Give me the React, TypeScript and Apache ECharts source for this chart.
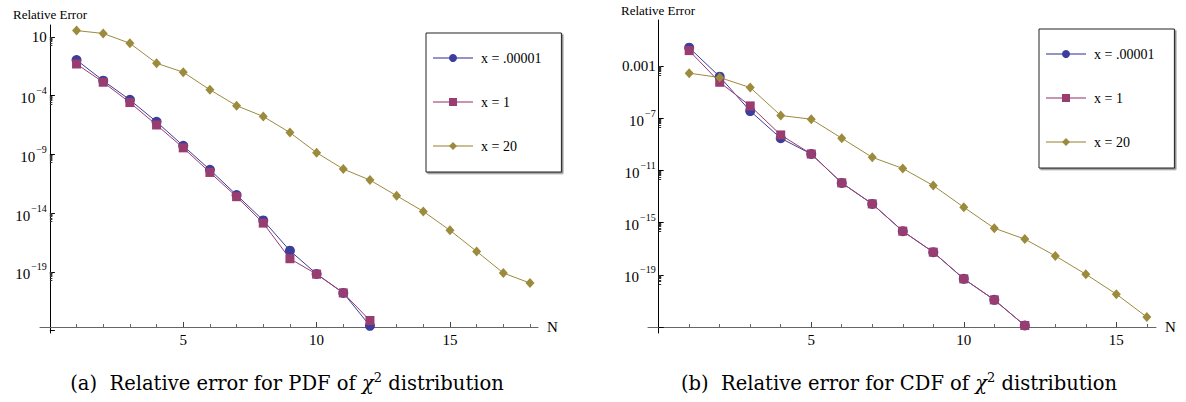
import React, { useEffect, useRef } from "react";
import * as echarts from "echarts";

// ---------- data ----------
const NAMES = ["x = .00001", "x = 1", "x = 20"];

// (a) PDF relative error
const pdfN12 = [1, 2, 3, 4, 5, 6, 7, 8, 9, 10, 11, 12];
const pdfN18 = [1, 2, 3, 4, 5, 6, 7, 8, 9, 10, 11, 12, 13, 14, 15, 16, 17, 18];
const pdfSmall = [1.1e-1, 1.9e-3, 4.4e-5, 5.9e-7, 5.4e-9, 4.9e-11, 3.5e-13, 2.4e-15, 6.3e-18, 6.6e-20, 1.6e-21, 2.5e-24];
const pdfOne = [5.0e-2, 1.4e-3, 2.6e-5, 3.2e-7, 3.6e-9, 2.9e-11, 2.5e-13, 1.4e-15, 1.3e-18, 6.3e-20, 1.6e-21, 7.1e-24];
const pdfTwenty = [35, 20, 2.9, 5.8e-2, 1.0e-2, 3.2e-4, 1.4e-5, 1.7e-6, 7.2e-8, 1.4e-9, 5.6e-11, 6.5e-12, 3.0e-13, 1.4e-14, 3.4e-16, 5.5e-18, 7.9e-20, 1.1e-20];

// (b) CDF relative error
const cdfN12 = [1, 2, 3, 4, 5, 6, 7, 8, 9, 10, 11, 12];
const cdfN16 = [1, 2, 3, 4, 5, 6, 7, 8, 9, 10, 11, 12, 13, 14, 15, 16];
const cdfSmall = [2.5e-2, 1.5e-4, 3.5e-7, 2.9e-9, 1.8e-10, 1.1e-12, 2.7e-14, 2.2e-16, 5.4e-18, 4.9e-20, 1.2e-21, 1.3e-23];
const cdfOne = [1.5e-2, 5.6e-5, 8.7e-7, 5.2e-9, 1.8e-10, 1.1e-12, 2.7e-14, 2.2e-16, 5.4e-18, 4.9e-20, 1.2e-21, 1.3e-23];
const cdfTwenty = [2.8e-4, 1.3e-4, 2.2e-5, 1.6e-7, 8.3e-8, 2.9e-9, 1.0e-10, 1.4e-11, 6.8e-13, 1.5e-14, 3.7e-16, 5.4e-17, 2.8e-18, 1.1e-19, 3.3e-21, 5.8e-23];

// tick exponents
const pdfMajorExp = [1, -4, -9, -14, -19];
const pdfTickExp = [1, -4, -9, -14, -19, -24];
const cdfMajorExp = [-3, -7, -11, -15, -19];
const cdfTickExp = [-3, -7, -11, -15, -19, -23];
const xMinorTicksPdf = [1, 2, 3, 4, 6, 7, 8, 9, 11, 12, 13, 14, 16, 17, 18];
const xMinorTicksCdf = [1, 2, 3, 4, 6, 7, 8, 9, 11, 12, 13, 14, 16];
const xMajorTicks = [5, 10, 15];

const COLORS = ["#3d3d9c", "#993d71", "#9c8b3d"];
const SYMBOLS = ["circle", "rect", "diamond"];
const SYMBOL_SIZES = [10, 9, [9, 10]];
const FONT = "'Liberation Serif', 'Times New Roman', serif";
const CAP_FONT = "'DejaVu Serif', serif";

const minorsBelow = (majors: number[]) => {
  const out: number[] = [];
  majors.forEach((n) => {
    for (let k = 2; k <= 9; k++) out.push(n - 1 + Math.log10(k));
  });
  return out;
};

const pairs = (ns: number[], vs: number[]) => ns.map((n, i) => [n, Math.log10(vs[i])]);

const labelFmt = (plain: Record<string, string>) => (v: number) => {
  const n = Math.round(v);
  if (plain[String(n)]) return plain[String(n)];
  return `{b|10}{s|${n < 0 ? "\u2212" + -n : n}}`;
};

const richLabel = {
  b: { fontFamily: FONT, fontSize: 15, color: "#000", lineHeight: 20, verticalAlign: "bottom" },
  s: { fontFamily: FONT, fontSize: 10, color: "#000", lineHeight: 20, verticalAlign: "top", padding: [0, 0, 0, 1] },
};

export default function App() {
  const ref = useRef<HTMLDivElement>(null);
  useEffect(() => {
    if (!ref.current) return;
    const chart = echarts.init(ref.current, undefined, { renderer: "svg" });

    // plot frames (layout)
    const frames = [
      { left: 40, top: 25, width: 498, height: 302, xMin: -0.37, xMax: 18.3, yMin: -23.7, yMax: 2.02 },
      { left: 648, top: 20, width: 508, height: 307, xMin: -0.35, xMax: 16.3, yMin: -23, yMax: 0.52 },
    ];
    const overhang = 6; // y axis runs a little below the N axis
    // plot grid (A) and a grid for the vertical axis placed at N = 0 (B)
    const gridsA = frames.map((f) => ({ left: f.left, top: f.top, width: f.width, height: f.height }));
    const gridsB = frames.map((f) => {
      const dx = ((0 - f.xMin) / (f.xMax - f.xMin)) * f.width;
      return { left: f.left + dx, top: f.top, width: f.width - dx, height: f.height + overhang };
    });
    const yMinB = frames.map((f) => f.yMin - (overhang * (f.yMax - f.yMin)) / f.height);

    const xMain = (fi: number, minorTicks: number[]) => ({
      type: "value",
      gridIndex: fi * 2,
      min: frames[fi].xMin,
      max: frames[fi].xMax,
      position: "bottom",
      name: "N",
      nameLocation: "end",
      nameGap: 9,
      nameTextStyle: { fontFamily: FONT, fontSize: 15, color: "#000", verticalAlign: "middle" },
      axisLine: { show: true, onZero: false, lineStyle: { color: "#666", width: 1 } },
      axisTick: { show: true, inside: true, length: 3, customValues: minorTicks, lineStyle: { color: "#666" } },
      axisLabel: { show: true, customValues: xMajorTicks, fontFamily: FONT, fontSize: 15, color: "#000", margin: 5 },
      splitLine: { show: false },
    });
    const xMajor = (fi: number) => ({
      type: "value",
      gridIndex: fi * 2,
      min: frames[fi].xMin,
      max: frames[fi].xMax,
      position: "bottom",
      axisLine: { show: false, onZero: false },
      axisTick: { show: true, inside: true, length: 5, customValues: xMajorTicks, lineStyle: { color: "#444" } },
      axisLabel: { show: false },
      splitLine: { show: false },
    });
    const xHidden = (fi: number) => ({
      type: "value",
      gridIndex: fi * 2 + 1,
      min: 0,
      max: frames[fi].xMax,
      show: false,
    });
    const yHidden = (fi: number) => ({
      type: "value",
      gridIndex: fi * 2,
      min: frames[fi].yMin,
      max: frames[fi].yMax,
      show: false,
    });
    const yMain = (fi: number, ticks: number[], labels: number[], plain: Record<string, string>) => ({
      type: "value",
      gridIndex: fi * 2 + 1,
      min: yMinB[fi],
      max: frames[fi].yMax,
      position: "left",
      axisLine: { show: true, onZero: false, lineStyle: { color: "#000", width: 1 } },
      axisTick: { show: true, inside: true, length: 5, customValues: ticks, lineStyle: { color: "#000" } },
      axisLabel: { show: true, customValues: labels, formatter: labelFmt(plain), rich: richLabel, margin: 3, fontFamily: FONT, fontSize: 15, color: "#000" },
      splitLine: { show: false },
    });
    const yMinor = (fi: number, ticks: number[]) => ({
      type: "value",
      gridIndex: fi * 2 + 1,
      min: yMinB[fi],
      max: frames[fi].yMax,
      position: "left",
      axisLine: { show: false, onZero: false },
      axisTick: { show: true, inside: true, length: 2.5, customValues: ticks, lineStyle: { color: "#333" } },
      axisLabel: { show: false },
      splitLine: { show: false },
    });

    const mkSeries = (i: number, data: number[][], xIdx: number, yIdx: number) => ({
      type: "line",
      name: NAMES[i],
      xAxisIndex: xIdx,
      yAxisIndex: yIdx,
      data,
      symbol: SYMBOLS[i],
      symbolSize: SYMBOL_SIZES[i],
      clip: false,
      z: 3,
      itemStyle: { color: COLORS[i] },
      lineStyle: { color: COLORS[i], width: 1 },
      emphasis: { disabled: true },
    });

    const legendBase = {
      orient: "vertical",
      itemWidth: 40,
      itemHeight: 10,
      itemGap: 30,
      padding: [18, 20, 19, 6],
      borderColor: "#222",
      borderWidth: 1,
      shadowColor: "rgba(0,0,0,0.45)",
      shadowOffsetX: 1.5,
      shadowOffsetY: 1.5,
      shadowBlur: 0,
      backgroundColor: "#fff",
      selectedMode: false,
      data: NAMES,
      lineStyle: { opacity: 0.55, width: 2 },
      textStyle: { fontFamily: FONT, fontSize: 14, color: "#000", padding: [0, 0, 0, 3] },
    };

    const capRich = {
      t: { fontFamily: CAP_FONT, fontSize: 19.5, color: "#000" },
      i: { fontFamily: CAP_FONT, fontSize: 19.5, fontStyle: "italic", color: "#000" },
      s: { fontFamily: CAP_FONT, fontSize: 13, color: "#000", verticalAlign: "top", lineHeight: 24 },
    };

    chart.setOption({
      animation: false,
      backgroundColor: "#fff",
      title: [
        { text: "Relative Error", left: 8, top: 3, textStyle: { fontFamily: FONT, fontSize: 13, fontWeight: "normal", color: "#000" } },
        { text: "Relative Error", left: 616, top: -1, textStyle: { fontFamily: FONT, fontSize: 13, fontWeight: "normal", color: "#000" } },
      ],
      grid: [gridsA[0], gridsB[0], gridsA[1], gridsB[1]],
      xAxis: [
        xMain(0, xMinorTicksPdf),
        xMajor(0),
        xHidden(0),
        xMain(1, xMinorTicksCdf),
        xMajor(1),
        xHidden(1),
      ],
      yAxis: [
        yHidden(0),
        yMain(0, pdfTickExp, pdfMajorExp, { "1": "10" }),
        yMinor(0, minorsBelow(pdfMajorExp)),
        yHidden(1),
        yMain(1, cdfTickExp, cdfMajorExp, { "-3": "0.001" }),
        yMinor(1, minorsBelow(cdfMajorExp)),
      ],
      legend: [
        { ...legendBase, left: 426, top: 33 },
        { ...legendBase, left: 1039, top: 29 },
      ],
      series: [
        mkSeries(0, pairs(pdfN12, pdfSmall), 0, 0),
        mkSeries(1, pairs(pdfN12, pdfOne), 0, 0),
        mkSeries(2, pairs(pdfN18, pdfTwenty), 0, 0),
        mkSeries(0, pairs(cdfN12, cdfSmall), 3, 3),
        mkSeries(1, pairs(cdfN12, cdfOne), 3, 3),
        mkSeries(2, pairs(cdfN16, cdfTwenty), 3, 3),
      ],
      graphic: [
        {
          type: "text",
          x: 287,
          y: 383,
          style: {
            text: "{t|(a)  Relative error for PDF of }{i|\u03c7}{s|2}{t| distribution}",
            rich: capRich,
            align: "center",
            verticalAlign: "middle",
          },
        },
        {
          type: "text",
          x: 899,
          y: 383,
          style: {
            text: "{t|(b)  Relative error for CDF of }{i|\u03c7}{s|2}{t| distribution}",
            rich: capRich,
            align: "center",
            verticalAlign: "middle",
          },
        },
      ],
    });
    return () => chart.dispose();
  }, []);
  return <div ref={ref} style={{ position: "fixed", left: 0, top: 0, width: 1186, height: 402 }} />;
}
